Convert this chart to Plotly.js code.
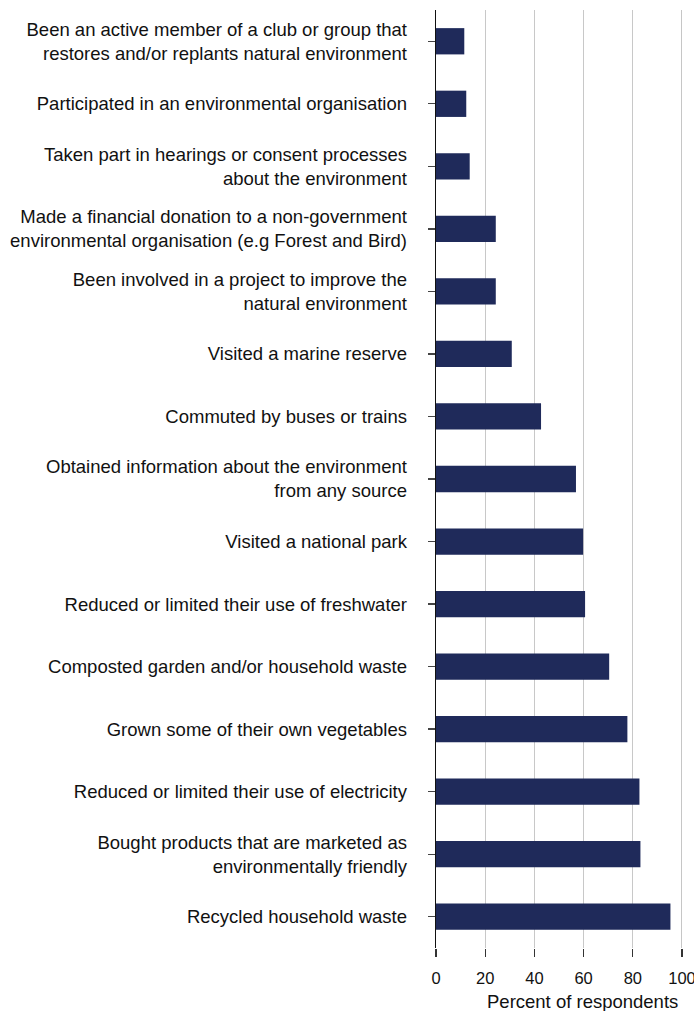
<!DOCTYPE html>
<html>
<head>
<meta charset="utf-8">
<script src="https://cdn.plot.ly/plotly-3.0.1.min.js"></script>
<style>html,body{margin:0;padding:0;background:#fff;overflow:hidden}</style>
</head>
<body>
<div id="chart" style="width:694px;height:1011px"></div>
<script>
const categories = [
  "Been an active member of a club or group that<br>restores and/or replants natural environment",
  "Participated in an environmental organisation",
  "Taken part in hearings or consent processes<br>about the environment",
  "Made a financial donation to a non-government<br>environmental organisation (e.g Forest and Bird)",
  "Been involved in a project to improve the<br>natural environment",
  "Visited a marine reserve",
  "Commuted by buses or trains",
  "Obtained information about the environment<br>from any source",
  "Visited a national park",
  "Reduced or limited their use of freshwater",
  "Composted garden and/or household waste",
  "Grown some of their own vegetables",
  "Reduced or limited their use of electricity",
  "Bought products that are marketed as<br>environmentally friendly",
  "Recycled household waste"
];
const percentValues = [11.5, 12.3, 13.7, 24.3, 24.3, 30.8, 42.7, 56.9, 59.8, 60.6, 70.4, 77.8, 82.7, 83.1, 95.3];
const xTickValues = [0, 20, 40, 60, 80, 100];
const xTickLabels = ["0", "20", "40", "60", "80", "100"];

const FONT = "Liberation Sans, Arial, Helvetica, sans-serif";

const trace = {
  type: "bar",
  orientation: "h",
  y: categories,
  x: percentValues,
  marker: {color: "#1f2a5a"},
  hoverinfo: "x+y"
};

const layout = {
  width: 694,
  height: 1011,
  margin: {l: 435.5, r: 12.3, t: 10, b: 63, pad: 0},
  paper_bgcolor: "#ffffff",
  plot_bgcolor: "#ffffff",
  showlegend: false,
  bargap: 0.58,
  font: {family: FONT, size: 18.5, color: "#111111"},
  xaxis: {
    range: [0, 100],
    tickvals: xTickValues,
    ticktext: xTickLabels,
    showgrid: true,
    gridcolor: "#c8c8c8",
    gridwidth: 1.3,
    zeroline: false,
    showline: false,
    ticks: "outside",
    ticklen: 8,
    tickwidth: 1.3,
    tickcolor: "#333333",
    ticklabeloverflow: "allow",
    ticklabelstandoff: 7,
    tickfont: {family: FONT, size: 16.5, color: "#111111"},
    fixedrange: true
  },
  yaxis: {
    type: "category",
    autorange: "reversed",
    showgrid: false,
    zeroline: false,
    showline: true,
    linecolor: "#111111",
    linewidth: 1.3,
    ticks: "outside",
    ticklen: 7,
    tickwidth: 1.3,
    tickcolor: "#444444",
    ticklabelstandoff: 17,
    tickfont: {family: FONT, size: 18.5, color: "#111111"},
    fixedrange: true
  },
  shapes: [
    {type: "line", xref: "x", yref: "paper", x0: 100, x1: 100, y0: 0, y1: 1,
     line: {color: "#a8a8a8", width: 1.3}, layer: "below"}
  ],
  annotations: [
    {text: "Percent of respondents", xref: "paper", yref: "paper",
     x: 0.595, y: 0, xanchor: "center", yanchor: "middle", yshift: -53,
     showarrow: false, font: {family: FONT, size: 18.5, color: "#111111"}}
  ]
};

Plotly.newPlot("chart", [trace], layout, {displayModeBar: false, staticPlot: true});
</script>
</body>
</html>
